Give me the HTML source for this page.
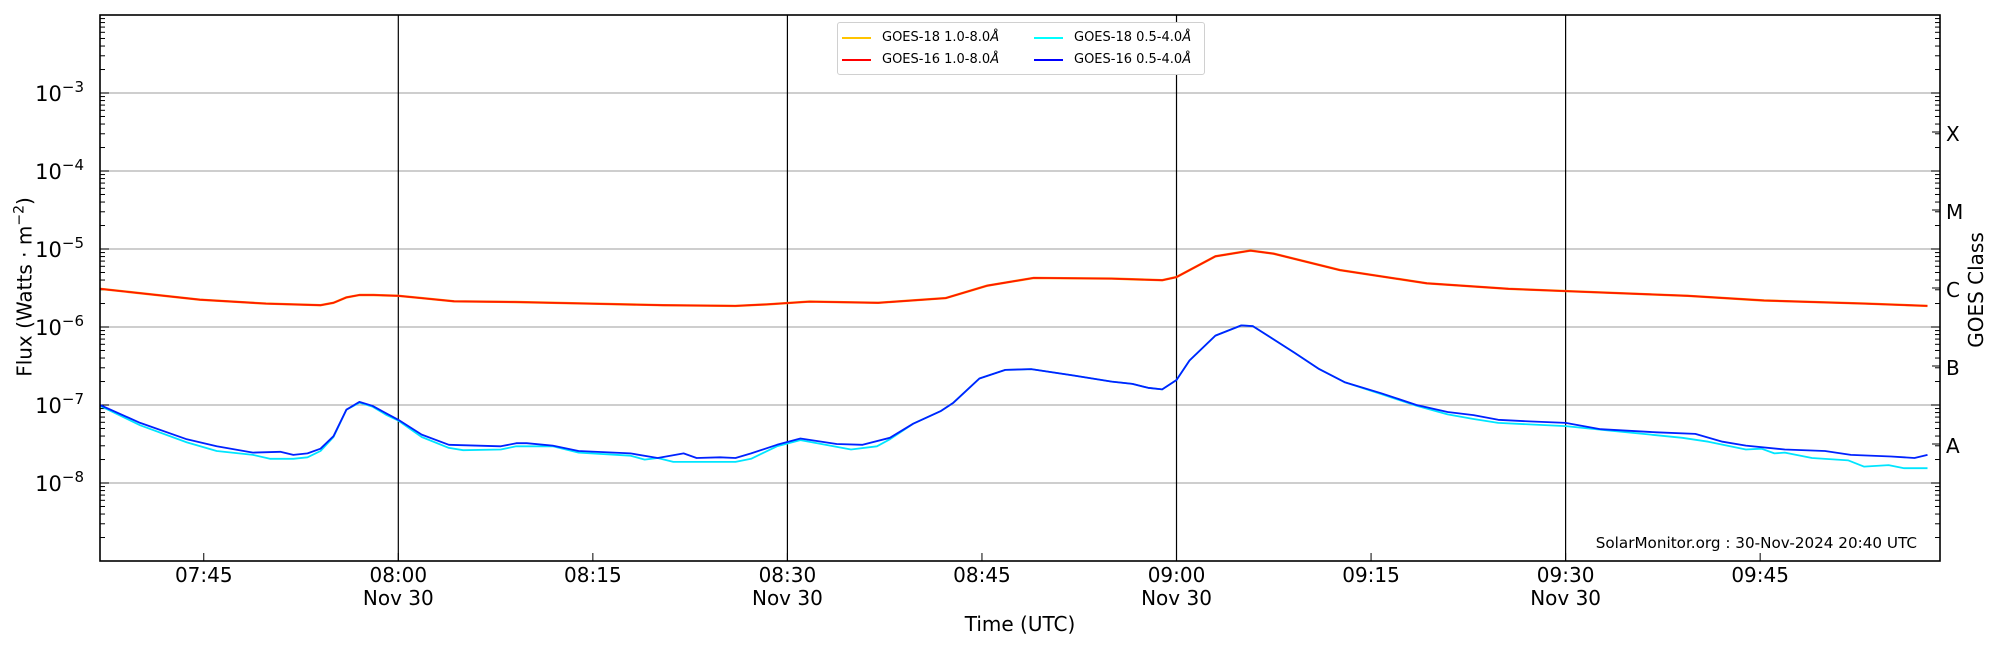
<!DOCTYPE html>
<html><head><meta charset="utf-8"><style>
html,body{margin:0;padding:0;background:#fff;}
svg{display:block;font-family:"DejaVu Sans","Liberation Sans",sans-serif;}
.sw{display:inline-block;width:29px;height:2px;vertical-align:middle;margin-right:11px;}
</style></head><body>
<svg id="chart" width="2000" height="650" viewBox="0 0 2000 650"></svg>
<script>
// ---- data (minutes relative to 08:00 UTC, log10 flux) ----
const redT = [-23,-15.3,-10.2,-6,-5,-4,-3,-1.9,0,1.8,4.3,9,14.7,20.4,26,28.4,31.7,37,42.2,45.4,49,55,58.9,60,63,65.7,67.5,72.6,79.3,85.6,90,99.4,105.3,113.1,117.9];
const redV = [-5.51,-5.65,-5.70,-5.72,-5.69,-5.62,-5.59,-5.59,-5.60,-5.63,-5.67,-5.68,-5.70,-5.72,-5.73,-5.71,-5.675,-5.69,-5.63,-5.47,-5.37,-5.38,-5.40,-5.36,-5.094,-5.02,-5.06,-5.27,-5.44,-5.51,-5.54,-5.60,-5.66,-5.70,-5.73];
const blueT = [-23,-19.9,-16.3,-14,-11.2,-9.1,-8.1,-7,-6,-5,-4,-3,-2,-0.9,0,1.8,3.9,7.9,9.1,9.9,11.9,13.9,17.9,20,22,23,24.8,26,27.2,29.2,31,33.8,35.8,37.9,39.7,41.8,42.8,44.8,46.8,48.8,52,55,56.6,57.8,58.9,60,61,63,65,65.9,69.1,71,73,75.8,78.5,80.9,82.9,84.8,87.2,90,92.7,97,100,102.1,103.9,106.9,110,112,115.1,116.9,117.9];
const blueV = [-7.0,-7.23,-7.44,-7.53,-7.61,-7.60,-7.64,-7.62,-7.56,-7.40,-7.06,-6.96,-7.01,-7.11,-7.19,-7.38,-7.51,-7.53,-7.49,-7.49,-7.52,-7.59,-7.62,-7.68,-7.62,-7.68,-7.67,-7.68,-7.62,-7.51,-7.43,-7.50,-7.51,-7.42,-7.24,-7.08,-6.97,-6.66,-6.55,-6.54,-6.62,-6.70,-6.73,-6.78,-6.80,-6.68,-6.43,-6.11,-5.98,-5.99,-6.33,-6.54,-6.71,-6.85,-7.0,-7.09,-7.13,-7.19,-7.21,-7.23,-7.31,-7.35,-7.37,-7.47,-7.52,-7.57,-7.59,-7.64,-7.66,-7.68,-7.64];
const cyanT = [-23,-19.9,-16.3,-14,-11.2,-9.9,-8.1,-7,-6,-5,-4,-3,-2,-0.9,0,1.8,3.9,5,7.9,9.1,11.9,13.9,17.9,19,20,21.2,26,27.2,29.2,31,34.9,36.9,37.9,39.7,41.8,42.8,44.8,46.8,48.8,52,55,56.6,57.8,58.9,60,61,63,65,65.9,69.1,71,73,75.8,78.5,80.9,82.9,84.8,90,93.5,99,101,103.9,105.1,106.1,106.9,109,111.8,113,114.9,116.1,117.9];
const cyanV = [-7.01,-7.26,-7.48,-7.59,-7.64,-7.69,-7.69,-7.67,-7.59,-7.41,-7.06,-6.97,-7.02,-7.13,-7.2,-7.41,-7.55,-7.58,-7.57,-7.53,-7.53,-7.61,-7.65,-7.70,-7.68,-7.73,-7.73,-7.69,-7.53,-7.45,-7.57,-7.53,-7.44,-7.24,-7.08,-6.97,-6.66,-6.55,-6.54,-6.62,-6.70,-6.73,-6.78,-6.80,-6.68,-6.43,-6.11,-5.98,-5.99,-6.33,-6.54,-6.71,-6.86,-7.01,-7.12,-7.18,-7.23,-7.27,-7.33,-7.42,-7.47,-7.57,-7.56,-7.62,-7.61,-7.68,-7.71,-7.79,-7.77,-7.81,-7.81];
const yDecades = [-3,-4,-5,-6,-7,-8];
const yTickLabels = ["10","10","10","10","10","10"];
const yTickExp = ["\u22123","\u22124","\u22125","\u22126","\u22127","\u22128"];
const xTicks = [-15,0,15,30,45,60,75,90,105];
const xTickLabels = ["07:45","08:00","08:15","08:30","08:45","09:00","09:15","09:30","09:45"];
const classLabels = ["X","M","C","B","A"];
const classLevels = [-3.5,-4.5,-5.5,-6.5,-7.5];

// ---- layout ----
const L=100,R=1940,T=15,B=561;
const xMin=-23,xMax=xMin+(R-L)/12.97;
const yMin=-9,yMax=-2;
const sx=m=>L+(m-xMin)/(xMax-xMin)*(R-L);
const sy=v=>B-(v-yMin)/(yMax-yMin)*(B-T);
const svg=document.getElementById('chart');
const NS='http://www.w3.org/2000/svg';
function mk(tag,attrs,parent){const e=document.createElementNS(NS,tag);for(const k in attrs)e.setAttribute(k,attrs[k]);(parent||svg).appendChild(e);return e;}

yDecades.forEach((d,i)=>{
  const g=mk('line',{x1:L,x2:R,y1:sy(d),y2:sy(d),stroke:'#b0b0b0','stroke-width':1.2});
  
  
});
[0,30,60,90].forEach(m=>{
  const v=mk('line',{x1:sx(m),x2:sx(m),y1:T,y2:B,stroke:'#000','stroke-width':1.2});
  
  
});
for(let d=-9;d<-2;d++){
  for(let k=1;k<10;k++){
    const v=d+Math.log10(k); if(v<yMin-1e-9)continue;
    const y=sy(v); const len=k===1?9:5;
    if(k===1 && d===-9) continue;
    mk('line',{x1:L,x2:L+len,y1:y,y2:y,stroke:'#000','stroke-width':1});
    mk('line',{x1:R,x2:R-len,y1:y,y2:y,stroke:'#000','stroke-width':1});
  }
}
classLevels.forEach(v=>{mk('line',{x1:R,x2:R-8,y1:sy(v),y2:sy(v),stroke:'#000','stroke-width':1});});
yDecades.forEach((d,i)=>{
  const t=mk('text',{x:84,y:sy(d)+8,'text-anchor':'end','font-size':21,fill:'#000'});
  
  
  t.textContent=yTickLabels[i];
  const s=mk('tspan',{dy:-9,'font-size':15},t); s.textContent=yTickExp[i];
});
xTicks.forEach((m,i)=>{
  mk('line',{x1:sx(m),x2:sx(m),y1:B,y2:B-8,stroke:'#000','stroke-width':1});
  const t=mk('text',{x:sx(m),y:582,'text-anchor':'middle','font-size':20,fill:'#000'});
  
  
  t.textContent=xTickLabels[i];
  if(i%2===1){
    const n=mk('text',{x:sx(m),y:605,'text-anchor':'middle','font-size':20,fill:'#000'});
    
    
    n.textContent='Nov 30';
  }
});
function path(ts,vs,color,name,w){
  let d='';ts.forEach((t,i)=>{d+=(i?'L':'M')+sx(t).toFixed(1)+','+sy(vs[i]).toFixed(1);});
  const p=mk('path',{d:d,fill:'none',stroke:color,'stroke-width':w||1.8,'stroke-linejoin':'round'});
  
  
}
path(redT,redV,'#ffa500','goes18-long-line',2.4);
path(redT,redV,'#ff1a00','goes16-long-line',1.8);
path(cyanT,cyanV,'#00e5ff','goes18-short-line',1.8);
path(blueT,blueV,'#0022ff','goes16-short-line',1.8);
const fr=mk('rect',{x:L,y:T,width:R-L,height:B-T,fill:'none',stroke:'#000','stroke-width':1.6});


classLabels.forEach((c,i)=>{
  const t=mk('text',{x:1946,y:sy(classLevels[i])+9,'font-size':20,fill:'#000'});
  
  
  t.textContent=c;
});
</script>
<div style="position:absolute;left:0;top:0;width:2000px;height:650px;pointer-events:none;font-family:'DejaVu Sans','Liberation Sans',sans-serif;">
  <div style="position:absolute;left:24px;top:287px;transform:translate(-50%,-50%) rotate(-90deg);font-size:20px;white-space:nowrap;">Flux (Watts · m<sup style="font-size:14px">−2</sup>)</div>
  <div style="position:absolute;left:1976px;top:290px;transform:translate(-50%,-50%) rotate(-90deg);font-size:20px;white-space:nowrap;">GOES Class</div>
  <div style="position:absolute;left:1020px;top:624px;transform:translate(-50%,-50%);font-size:20px;white-space:nowrap;">Time (UTC)</div>
  <div style="position:absolute;right:83px;top:534px;font-size:15.2px;white-space:nowrap;">SolarMonitor.org : 30-Nov-2024 20:40 UTC</div>
  <div style="position:absolute;left:837px;top:22px;width:366px;height:51px;border:1px solid #d0d0d0;border-radius:3px;background:#fff;font-size:13px;">
    <div style="position:absolute;left:4px;top:7px;white-space:nowrap;"><span class="sw" style="background:#ffc400;"></span>GOES-18 1.0-8.0<i>Å</i></div>
    <div style="position:absolute;left:4px;top:29px;white-space:nowrap;"><span class="sw" style="background:#ff0000;"></span>GOES-16 1.0-8.0<i>Å</i></div>
    <div style="position:absolute;left:196px;top:7px;white-space:nowrap;"><span class="sw" style="background:#00ffff;"></span>GOES-18 0.5-4.0<i>Å</i></div>
    <div style="position:absolute;left:196px;top:29px;white-space:nowrap;"><span class="sw" style="background:#0000ff;"></span>GOES-16 0.5-4.0<i>Å</i></div>
  </div>
</div>
</body></html>
